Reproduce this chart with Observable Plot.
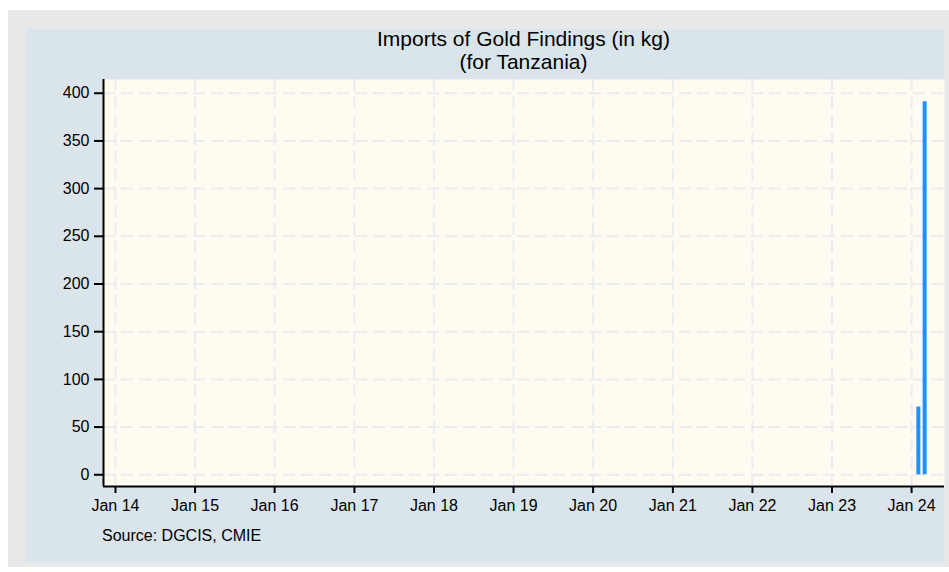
<!DOCTYPE html>
<html>
<head>
<meta charset="utf-8">
<script src="https://cdn.jsdelivr.net/npm/d3@7"></script>
<script src="https://cdn.jsdelivr.net/npm/@observablehq/plot@0.6"></script>
<style>
  html, body { margin: 0; padding: 0; background: #ffffff; }
  body { width: 949px; height: 572px; position: relative; overflow: hidden;
         font-family: "Liberation Sans", Arial, Helvetica, sans-serif; }
  #outer { position: absolute; left: 8px; top: 10px; width: 941px; height: 557px; background: #e8e8e8; }
  #panel { position: absolute; left: 26px; top: 29px; width: 918px; height: 533px; background: #dae5eb; }
  #title { position: absolute; left: 103px; width: 841px; top: 27px; text-align: center;
           font-size: 21px; line-height: 23px; color: #000; }
  #source { position: absolute; left: 102px; top: 527px; font-size: 16px; line-height: 18px; color: #000; }
  #chart { position: absolute; left: 0; top: 0; }
</style>
</head>
<body>
<div id="outer"></div>
<div id="panel"></div>
<div id="chart"></div>
<div id="title">Imports of Gold Findings (in kg)<br>(for Tanzania)</div>
<div id="source">Source: DGCIS, CMIE</div>
<script>
// Data
const months = ["2024-02-01", "2024-03-01"];
const values = [71, 391];

// Tick labels
const yTicks = [0, 50, 100, 150, 200, 250, 300, 350, 400];
const xTickYears = [2014, 2015, 2016, 2017, 2018, 2019, 2020, 2021, 2022, 2023, 2024];

const data = months.map((m, i) => ({date: new Date(m), value: values[i]}));
const xTicks = xTickYears.map(y => new Date(Date.UTC(y, 0, 1)));
const xDomain = [new Date("2013-11-07"), new Date("2024-05-31")];
const yDomain = [-12.3, 414.4];

const gridStyle = {stroke: "#e9ecf0", strokeOpacity: 1, strokeWidth: 2, strokeDasharray: "12,6"};

const chart = Plot.plot({
  width: 949,
  height: 572,
  marginTop: 79,
  marginLeft: 103,
  marginRight: 5,
  marginBottom: 86,
  style: {background: "transparent", fontFamily: "Liberation Sans, Arial, sans-serif", fontSize: "16px", color: "#000"},
  x: {type: "utc", domain: xDomain},
  y: {domain: yDomain},
  marks: [
    Plot.frame({fill: "#fffbf0", stroke: null}),
    Plot.gridY(yTicks, gridStyle),
    Plot.gridX(xTicks, gridStyle),
    Plot.ruleX(data, {x: "date", y1: 0, y2: "value", stroke: "#1e90ff", strokeWidth: 4}),
    Plot.axisY(yTicks, {tickSize: 9, tickPadding: 5, strokeWidth: 2, fontSize: 16, label: null, stroke: "#000"}),
    Plot.axisX(xTicks, {tickSize: 7, tickPadding: 6, strokeWidth: 2, fontSize: 16, label: null,
                        tickFormat: d3.utcFormat("Jan %y"), stroke: "#000"}),
    Plot.ruleX([xDomain[0]], {stroke: "#000", strokeWidth: 2}),
    Plot.ruleY([yDomain[0]], {stroke: "#000", strokeWidth: 2})
  ]
});
document.getElementById("chart").appendChild(chart);
</script>
</body>
</html>
